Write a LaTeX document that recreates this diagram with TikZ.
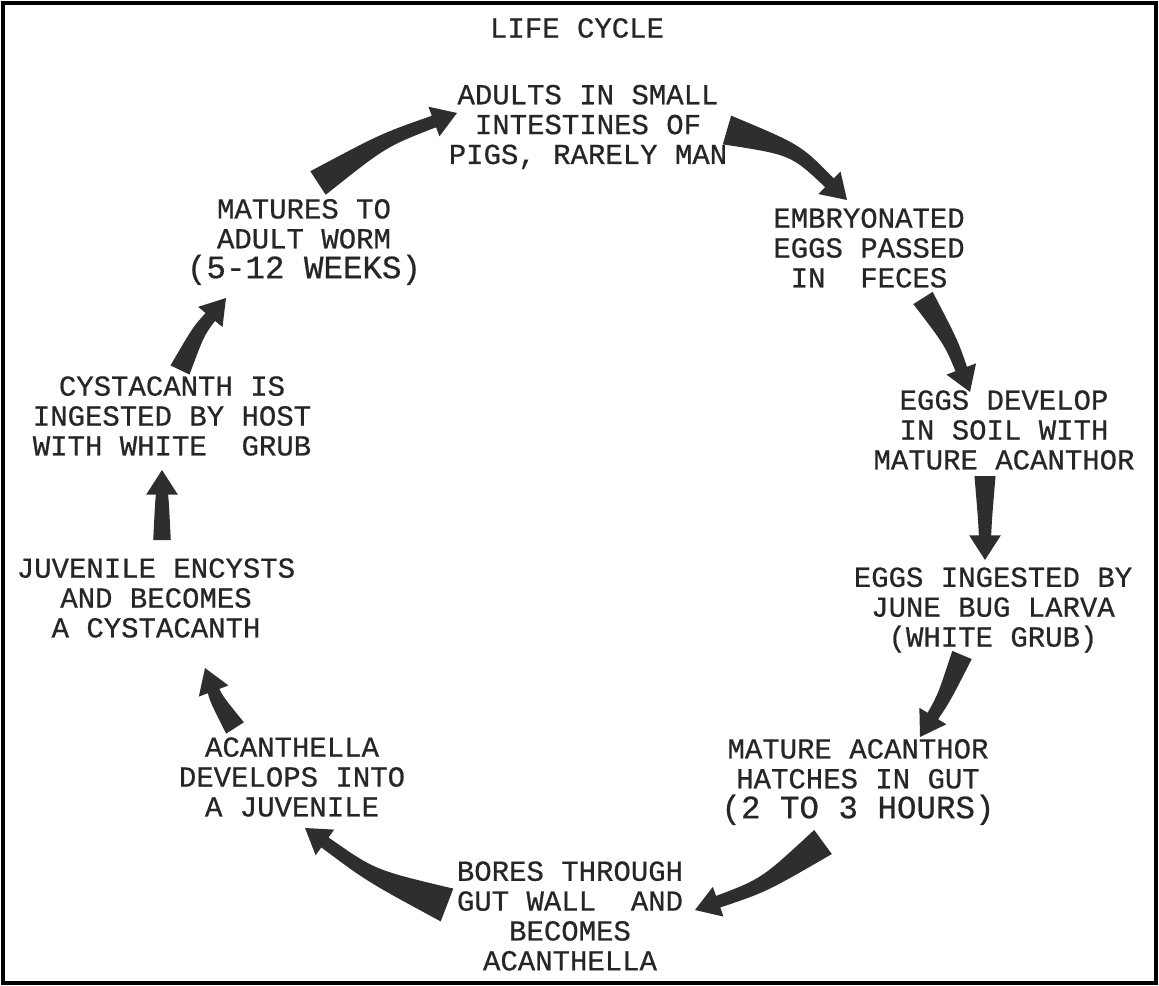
\documentclass[tikz,border=0pt]{standalone}
\usepackage{fontspec}
\newfontfamily\lettering[FakeBold=0.6]{Liberation Mono}
\usetikzlibrary{calc}

\tikzset{
    stage/.style={font=\lettering\fontsize{16.5}{17}\selectfont, text=black!85, align=center, inner sep=0pt},
    cyclefill/.style={fill=black!82},
}

% tapered arrow: #1 bend, #2 tail half width, #3 tail, #4 tip
\newcommand\cyclearrow[4]{%
    \path ($(#3)!.5!(#4)!#1!90:(#4)$) coordinate (ctl)
          ($(#4)!14pt!(ctl)$) coordinate (neck);
    \fill[cyclefill] ($(#3)!#2!90:(ctl)$)
        .. controls ($(ctl)!4pt!90:(neck)$) .. ($(neck)!3.5pt!-90:(ctl)$)
        -- ($(neck)!9pt!-90:(ctl)$) -- (#4) -- ($(neck)!9pt!90:(ctl)$)
        -- ($(neck)!3.5pt!90:(ctl)$)
        .. controls ($(ctl)!4pt!-90:(neck)$) .. ($(#3)!#2!-90:(ctl)$) -- cycle;
}

\begin{document}
\begin{tikzpicture}[x=0.02cm, y=-0.02cm]
    \useasboundingbox (0,0) rectangle (1159,986);
    \draw[line width=1.8pt] (3,3) rectangle (1156,983);

    % Title
    \node[stage] (title) at (577,28) {LIFE CYCLE};

    % Stages, clockwise from the top
    \node[stage] (adults) at (588,127) {ADULTS IN SMALL\\INTESTINES OF\\PIGS, RARELY MAN};
    \node[stage] (eggs) at (869,248) {EMBRYONATED\\EGGS PASSED\\IN\ \ FECES};
    \node[stage] (soil) at (1004,430) {EGGS DEVELOP\\IN SOIL WITH\\MATURE ACANTHOR};
    \node[stage] (grub) at (993,610) {EGGS INGESTED BY\\JUNE BUG LARVA\\(WHITE GRUB)};
    \node[stage] (hatch) at (858,782) {MATURE ACANTHOR\\HATCHES IN GUT\\{\fontsize{18.5}{17}\selectfont(2 TO 3 HOURS)}};
    \node[stage] (bores) at (570,916) {BORES THROUGH\\GUT WALL\ \ AND\\BECOMES\\ACANTHELLA};
    \node[stage] (acanthella) at (292,777) {ACANTHELLA\\DEVELOPS INTO\\A JUVENILE};
    \node[stage] (juvenile) at (156,598) {JUVENILE ENCYSTS\\AND BECOMES\\A CYSTACANTH};
    \node[stage] (cystacanth) at (172,416) {CYSTACANTH IS\\INGESTED BY HOST\\WITH WHITE\ \ GRUB};
    \node[stage] (matures) at (304,242) {MATURES TO\\ADULT WORM\\{\fontsize{18.5}{17}\selectfont(5-12 WEEKS)}};

    % Arrow ends
    \coordinate (a1t) at (318,183);  \coordinate (a1h) at (457,113);
    \coordinate (a2t) at (727,130);  \coordinate (a2h) at (847,200);
    \coordinate (a3t) at (923,298);  \coordinate (a3h) at (970,392);
    \coordinate (a4t) at (985,476);  \coordinate (a4h) at (985,560);
    \coordinate (a5t) at (962,655);  \coordinate (a5h) at (920,737);
    \coordinate (a6t) at (823,842);  \coordinate (a6h) at (695,910);
    \coordinate (a7t) at (447,905);  \coordinate (a7h) at (305,828);
    \coordinate (a8t) at (235,728);  \coordinate (a8h) at (205,668);
    \coordinate (a9t) at (162,540);  \coordinate (a9h) at (162,470);
    \coordinate (a10t) at (180,370); \coordinate (a10h) at (226,298);

    % Cycle arrows
    \cyclearrow{5pt}{8pt}{a1t}{a1h}
    \cyclearrow{10pt}{8.5pt}{a2t}{a2h}
    \cyclearrow{3pt}{6.5pt}{a3t}{a3h}
    \cyclearrow{0pt}{6pt}{a4t}{a4h}
    \cyclearrow{2pt}{6pt}{a5t}{a5h}
    \cyclearrow{6pt}{8.5pt}{a6t}{a6h}
    \cyclearrow{6pt}{10pt}{a7t}{a7h}
    \cyclearrow{2pt}{6pt}{a8t}{a8h}
    \cyclearrow{0pt}{5pt}{a9t}{a9h}
    \cyclearrow{3pt}{6pt}{a10t}{a10h}
\end{tikzpicture}
\end{document}
